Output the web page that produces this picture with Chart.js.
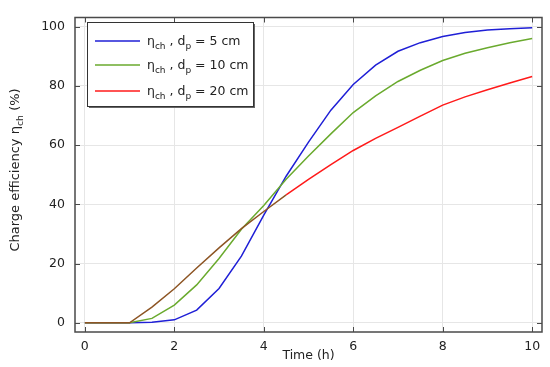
<!DOCTYPE html>
<html>
<head>
<meta charset="utf-8">
<script src="https://cdn.jsdelivr.net/npm/chart.js@4.4.0/dist/chart.umd.min.js"></script>
<style>
  html, body { margin: 0; padding: 0; background: #fff; }
</style>
</head>
<body>
<canvas id="chart" width="550" height="367"></canvas>
<script>
// data
const timeH = [0, 0.5, 1, 1.5, 2, 2.5, 3, 3.5, 4, 4.5, 5, 5.5, 6, 6.5, 7, 7.5, 8, 8.5, 9, 9.5, 10];
const eff5cm = [0, 0, 0, 0.2, 1, 4.3, 11.6, 22.5, 36.4, 49.5, 61, 71.8, 80.5, 87, 91.7, 94.6, 96.7, 98, 98.9, 99.3, 99.6];
const eff10cm = [0, 0, 0, 1.5, 6, 12.8, 21.7, 31.6, 39.6, 48.5, 56.3, 63.8, 71, 76.6, 81.5, 85.3, 88.6, 91, 92.9, 94.6, 96];
const eff20cm = [0, 0, 0, 5.3, 11.5, 18.5, 25.3, 31.8, 37.6, 43.2, 48.4, 53.4, 58.2, 62.3, 66, 69.8, 73.5, 76.3, 78.7, 81, 83.2];
const diameters = ['5 cm', '10 cm', '20 cm'];
const xTicks = [0, 2, 4, 6, 8, 10];
const yTicks = [0, 20, 40, 60, 80, 100];

const FONT = "'DejaVu Sans', sans-serif";
const TEXT = '#222';
const colors = ['#1f1fd6', '#6aaa2e', '#ff1a1a'];
const BROWN = '#8d5524';

function toXY(ys) {
    return timeH.map((t, i) => ({ x: t, y: ys[i] }));
}

// draws text with subscripts, parts = [[text, isSub], ...]
function richWidth(ctx, parts, size) {
    let w = 0;
    parts.forEach(([txt, sub]) => {
        ctx.font = `${sub ? size * 0.72 : size}px ${FONT}`;
        w += ctx.measureText(txt).width;
    });
    return w;
}

function drawRich(ctx, parts, x, y, size) {
    let cx = x;
    ctx.textBaseline = 'alphabetic';
    ctx.textAlign = 'left';
    parts.forEach(([txt, sub]) => {
        ctx.font = `${sub ? size * 0.72 : size}px ${FONT}`;
        ctx.fillText(txt, cx, sub ? y + size * 0.3 : y);
        cx += ctx.measureText(txt).width;
    });
}

const framePlugin = {
    id: 'frame',
    afterDraw(chart) {
        const ctx = chart.ctx;
        const { left, right, top, bottom } = chart.chartArea;
        const xs = chart.scales.x, ys = chart.scales.y;
        ctx.save();
        ctx.strokeStyle = '#4a4a4a';
        ctx.lineWidth = 1.5;
        ctx.strokeRect(left, top, right - left, bottom - top);
        // inward ticks on all four sides
        ctx.lineWidth = 1;
        ctx.beginPath();
        xTicks.forEach(v => {
            const px = Math.round(xs.getPixelForValue(v)) + 0.5;
            ctx.moveTo(px, bottom); ctx.lineTo(px, bottom - 5);
            ctx.moveTo(px, top); ctx.lineTo(px, top + 5);
        });
        yTicks.forEach(v => {
            const py = Math.round(ys.getPixelForValue(v)) + 0.5;
            ctx.moveTo(left, py); ctx.lineTo(left + 5, py);
            ctx.moveTo(right, py); ctx.lineTo(right - 5, py);
        });
        ctx.stroke();

        // y axis title with subscript
        ctx.fillStyle = TEXT;
        const yTitle = [['Charge efficiency η', false], ['ch', true], [' (%)', false]];
        const tsize = 13;
        const tw = richWidth(ctx, yTitle, tsize);
        ctx.translate(19, 170);
        ctx.rotate(-Math.PI / 2);
        drawRich(ctx, yTitle, -tw / 2, 0, tsize);
        ctx.restore();

        // legend box inside the plot
        ctx.save();
        const bx = 87, by = 22, bw = 166, bh = 84;
        ctx.fillStyle = '#666';
        ctx.fillRect(bx + 2, by + 2, bw, bh);
        ctx.fillStyle = '#fff';
        ctx.fillRect(bx, by, bw, bh);
        ctx.strokeStyle = '#333';
        ctx.lineWidth = 1;
        ctx.strokeRect(bx + 0.5, by + 0.5, bw, bh);
        const rows = [41, 65, 91];
        diameters.forEach((d, i) => {
            ctx.strokeStyle = colors[i];
            ctx.lineWidth = 1.5;
            ctx.beginPath();
            ctx.moveTo(95, rows[i]);
            ctx.lineTo(140, rows[i]);
            ctx.stroke();
            ctx.fillStyle = TEXT;
            drawRich(ctx, [['η', false], ['ch', true], [' , d', false], ['p', true], [' = ' + d, false]], 147, rows[i] + 4, 12.5);
        });
        ctx.restore();
    }
};

const ctx = document.getElementById('chart').getContext('2d');
new Chart(ctx, {
    type: 'line',
    data: {
        datasets: [
            { data: toXY(eff5cm), borderColor: colors[0], order: 3 },
            { data: toXY(eff10cm), borderColor: colors[1], order: 2 },
            {
                data: toXY(eff20cm), borderColor: colors[2], order: 1,
                segment: { borderColor: c => c.p0.parsed.x < 4.5 ? BROWN : colors[2] }
            }
        ]
    },
    options: {
        responsive: false,
        animation: false,
        layout: { padding: { left: 0, top: 10, right: 8, bottom: 0 } },
        elements: {
            line: { borderWidth: 1.5, tension: 0, fill: false },
            point: { radius: 0 }
        },
        plugins: {
            legend: { display: false },
            tooltip: { enabled: false }
        },
        scales: {
            x: {
                type: 'linear',
                min: -0.22,
                max: 10.22,
                afterBuildTicks: s => { s.ticks = xTicks.map(v => ({ value: v })); },
                afterFit: s => { s.height = 35; },
                grid: { color: '#e6e6e6', drawTicks: false },
                border: { display: false },
                ticks: { padding: 7, color: TEXT, font: { family: FONT, size: 12.5 } },
                title: {
                    display: true, text: 'Time (h)', color: TEXT,
                    font: { family: FONT, size: 12.5 }, padding: { top: 0, bottom: 4 }
                }
            },
            y: {
                min: -3.1,
                max: 103.1,
                afterBuildTicks: s => { s.ticks = yTicks.map(v => ({ value: v })); },
                afterFit: s => { s.width = 75; },
                grid: { color: '#e6e6e6', drawTicks: false },
                border: { display: false },
                ticks: { padding: 10, color: TEXT, font: { family: FONT, size: 12.5 } }
            }
        }
    },
    plugins: [framePlugin]
});
</script>
</body>
</html>
